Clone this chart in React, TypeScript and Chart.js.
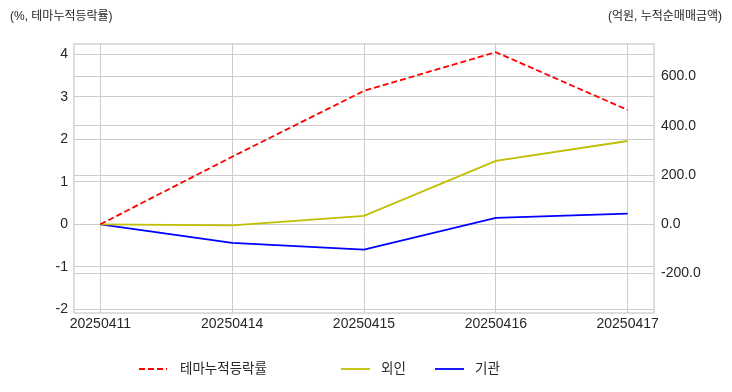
import React, { useEffect, useRef } from 'react';
import { Chart, registerables } from 'chart.js';

Chart.register(...registerables);

const dates = ['20250411', '20250414', '20250415', '20250416', '20250417'];
const themeCumReturn = [0, 1.59, 3.14, 4.05, 2.69];
const foreignNet = [0, -4, 34, 257, 338];
const institutionNet = [0, -75, -103, 26, 43];
const seriesNames = ['테마누적등락률', '외인', '기관'];
const leftTitle = '(%, 테마누적등락률)';
const rightTitle = '(억원, 누적순매매금액)';

const FONT = '"Liberation Sans", "Noto Sans CJK KR", sans-serif';
const GRID = '#cccccc';
const TEXT = '#262626';
const colors = ['#ff0000', '#bfbf00', '#0000ff'];
const DASH = [6, 3];
const LW = 1.8;

const decorPlugin = {
  id: 'decor',
  beforeDatasetsDraw(chart: any) {
    const { ctx, chartArea } = chart;
    ctx.save();
    ctx.strokeStyle = GRID;
    ctx.lineWidth = 1.3;
    ctx.strokeRect(chartArea.left, chartArea.top, chartArea.right - chartArea.left, chartArea.bottom - chartArea.top);
    ctx.restore();
  },
  afterDraw(chart: any) {
    const { ctx } = chart;
    ctx.save();
    ctx.fillStyle = TEXT;
    ctx.font = `12px ${FONT}`;
    ctx.textBaseline = 'middle';
    ctx.textAlign = 'left';
    ctx.fillText(leftTitle, 10, 17);
    ctx.textAlign = 'right';
    ctx.fillText(rightTitle, 722, 17);

    const items = [
      { x0: 139, x1: 167, tx: 180, dash: DASH },
      { x0: 341, x1: 370, tx: 381, dash: [] as number[] },
      { x0: 435, x1: 464, tx: 475, dash: [] as number[] },
    ];
    const y = 369;
    ctx.font = `13.5px ${FONT}`;
    ctx.textAlign = 'left';
    items.forEach((it, i) => {
      ctx.beginPath();
      ctx.setLineDash(it.dash);
      ctx.strokeStyle = colors[i];
      ctx.lineWidth = LW;
      ctx.moveTo(it.x0, y);
      ctx.lineTo(it.x1, y);
      ctx.stroke();
      ctx.setLineDash([]);
      ctx.fillStyle = TEXT;
      ctx.fillText(seriesNames[i], it.tx, y);
    });
    ctx.restore();
  },
};

export default function App() {
  const ref = useRef<HTMLCanvasElement | null>(null);
  useEffect(() => {
    if (!ref.current) return;
    const toPts = (arr: number[]) => arr.map((v, i) => ({ x: i, y: v }));
    const chart = new Chart(ref.current, {
      type: 'line',
      data: {
        datasets: [
          {
            label: seriesNames[0],
            data: toPts(themeCumReturn),
            yAxisID: 'y',
            borderColor: colors[0],
            borderWidth: LW,
            borderDash: DASH,
            pointRadius: 0,
            tension: 0,
            fill: false,
          },
          {
            label: seriesNames[1],
            data: toPts(foreignNet),
            yAxisID: 'y1',
            borderColor: colors[1],
            borderWidth: LW,
            pointRadius: 0,
            tension: 0,
            fill: false,
          },
          {
            label: seriesNames[2],
            data: toPts(institutionNet),
            yAxisID: 'y1',
            borderColor: colors[2],
            borderWidth: LW,
            pointRadius: 0,
            tension: 0,
            fill: false,
          },
        ],
      },
      options: {
        animation: false,
        responsive: false,
        maintainAspectRatio: false,
        layout: { padding: { left: 0, right: 0, top: 44, bottom: 0 } },
        plugins: { legend: { display: false }, tooltip: { enabled: false } },
        scales: {
          x: {
            type: 'linear',
            min: -0.2,
            max: 4.2,
            ticks: {
              stepSize: 1,
              includeBounds: false,
              autoSkip: false,
              maxRotation: 0,
              color: TEXT,
              font: { family: FONT, size: 14 },
              padding: 3,
              callback: (v: any) => (Number.isInteger(v) ? dates[v] : ''),
            },
            grid: { color: GRID, lineWidth: 1, drawTicks: false },
            border: { display: false },
            afterFit: (s: any) => { s.height = 79; },
          },
          y: {
            position: 'left',
            min: -2.087,
            max: 4.242,
            ticks: {
              stepSize: 1,
              includeBounds: false,
              color: TEXT,
              font: { family: FONT, size: 14 },
              padding: 6,
              callback: (v: any) => String(Math.round(v)),
            },
            grid: { color: GRID, lineWidth: 1, drawTicks: false },
            border: { display: false },
            afterFit: (s: any) => { s.width = 74; },
          },
          y1: {
            position: 'right',
            min: -360,
            max: 731.7,
            ticks: {
              stepSize: 200,
              includeBounds: false,
              color: TEXT,
              font: { family: FONT, size: 14 },
              padding: 7,
              callback: (v: any) => Number(v).toFixed(1),
            },
            grid: { color: GRID, lineWidth: 1, drawTicks: false },
            border: { display: false },
            afterFit: (s: any) => { s.width = 78; },
          },
        },
      } as any,
      plugins: [decorPlugin],
    });
    return () => chart.destroy();
  }, []);
  return (
    <div style={{ position: 'absolute', left: 0, top: 0, width: 732, height: 392, background: '#fff' }}>
      <canvas ref={ref} width={732} height={392} style={{ width: 732, height: 392, display: 'block' }} />
    </div>
  );
}
